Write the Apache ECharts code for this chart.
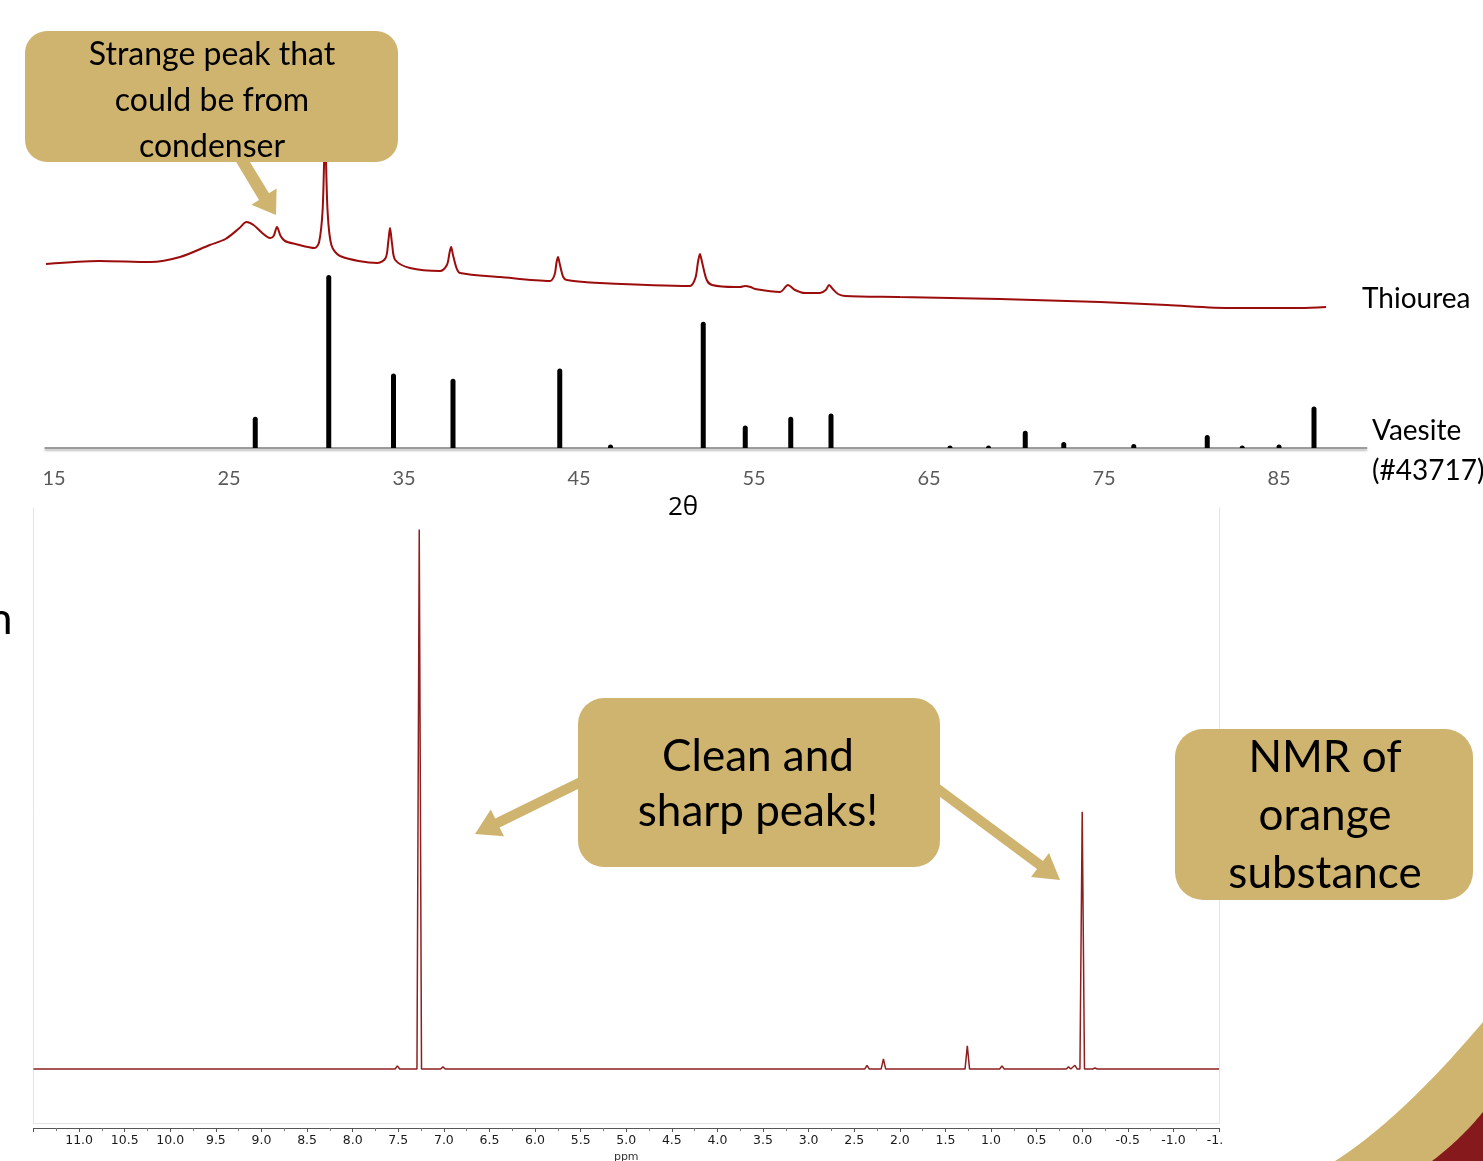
<!DOCTYPE html>
<html>
<head>
<meta charset="utf-8">
<script src="https://cdn.jsdelivr.net/npm/echarts@6/dist/echarts.min.js"></script>
<style>
html,body{margin:0;padding:0;background:#fff;}
#chart{width:1483px;height:1161px;}
</style>
</head>
<body>
<div id="chart"></div>
<script>
// ---------- XRD data ----------
const xrdTicks = [15, 25, 35, 45, 55, 65, 75, 85];

// Thiourea measured pattern (2θ, arbitrary intensity)
const thioX = [14.54, 17.6, 20.5, 22.2, 23.9, 24.8, 25.6, 26.0, 26.4, 26.9, 27.35, 27.55, 27.74, 27.95, 28.2, 28.8, 29.9,
  30.15, 30.35, 30.49, 30.63, 30.85, 31.34, 33.5, 33.95, 34.1, 34.2, 34.32, 34.5, 35.34, 37.06, 37.45, 37.6, 37.69, 37.8, 38.0, 38.2,
  40.49, 43.34, 43.6, 43.72, 43.8, 43.9, 44.1, 44.3, 46.2, 51.34, 51.65, 51.8, 51.91, 52.03, 52.3, 52.6, 53.91, 54.2, 54.49, 54.8,
  55.06, 56.49, 56.94, 57.34, 57.91, 58.77, 59.1, 59.29, 59.5, 59.8, 60.2, 63.34, 69.06, 74.77, 78.6, 82.37, 86.2, 87.69];
const thioY = [66, 69, 68, 73, 85, 91, 102, 108, 105, 97, 92, 94, 103, 94, 89, 86, 82,
  88, 120, 195, 120, 85, 74, 67, 72, 88, 102, 86, 70, 62, 59, 65, 77, 83, 75, 62, 57,
  53, 49, 55, 68, 73, 66, 53, 50, 47, 44, 52, 68, 76, 68, 50, 45, 43, 43, 44, 43,
  41, 38, 45, 40, 37, 37, 40, 45, 41, 36, 34, 33, 31, 28, 25, 22, 22, 23];

// Vaesite reference pattern (#43717): 2θ positions and relative intensities
const vaesitePos = [26.5, 30.7, 34.4, 37.8, 43.9, 46.8, 52.1, 54.5, 57.1, 59.4, 66.2, 68.4, 70.5, 72.7, 76.7, 80.9, 82.9, 85.0, 87.0];
const vaesiteInt = [18, 100, 43, 40, 46, 2, 73, 13, 18, 20, 1.5, 1.5, 10, 3.5, 2.3, 7.5, 1.5, 2, 24];

// ---------- NMR data ----------
const nmrTicksMin = -1.5, nmrTicksMax = 11.5;
const nmrPeakPpm = [7.51, 7.27, 7.01, 2.36, 2.18, 1.26, 0.88, 0.15, 0.08, 0.0, -0.14];
const nmrPeakInt = [0.6, 100, 0.4, 0.7, 1.9, 4.3, 0.6, 0.4, 0.7, 47.7, 0.2];

// build NMR stick spectrum on a flat baseline
const halfW = 0.025;
const nmrLine = [[nmrTicksMax, 0]];
nmrPeakPpm.forEach((p, i) => {
  nmrLine.push([p + halfW, 0], [p, nmrPeakInt[i]], [p - halfW, 0]);
});
nmrLine.push([nmrTicksMin, 0]);

const thioData = thioX.map((x, i) => [x, thioY[i]]);
const vaesiteData = vaesitePos.map((x, i) => [x, vaesiteInt[i]]);

const TAN = '#CFB470';
const FONT = 'Lato, "Open Sans", sans-serif';

// decorative corner shapes (quadratic curve sampled to polygon)
function quadPoly(p0, c, p1, extra) {
  const pts = [];
  for (let i = 0; i <= 30; i++) {
    const t = i / 30, u = 1 - t;
    pts.push([u * u * p0[0] + 2 * u * t * c[0] + t * t * p1[0], u * u * p0[1] + 2 * u * t * c[1] + t * t * p1[1]]);
  }
  return pts.concat(extra);
}
const cornerTan = quadPoly([1335, 1161], [1400, 1120], [1483, 1022], [[1483, 1161]]);
const cornerRed = quadPoly([1432, 1161], [1460, 1140], [1483, 1112], [[1483, 1161]]);

const frameLine = { show: true, onZero: false, lineStyle: { color: '#e4e4e4', width: 1 } };

const chart = echarts.init(document.getElementById('chart'));
chart.setOption({
  animation: false,
  backgroundColor: '#fff',
  grid: [
    { left: 45.25, right: 116.5, top: 130, bottom: 831, show: false, outerBoundsMode: 'none', containLabel: false },
    { left: 45.25, right: 116.5, top: 275, bottom: 713, show: false, outerBoundsMode: 'none', containLabel: false },
    { left: 33.5, right: 264, top: 508, bottom: 38, show: false, outerBoundsMode: 'none', containLabel: false }
  ],
  xAxis: [
    { gridIndex: 0, type: 'value', min: 14.5, max: 90, show: false },
    { gridIndex: 1, type: 'value', min: 14.5, max: 90, position: 'bottom',
      axisLine: { show: true, onZero: false, lineStyle: { color: '#9c9c9c', width: 2, shadowColor: 'rgba(0,0,0,0.25)', shadowOffsetY: 2, shadowBlur: 2 } },
      axisTick: { show: false },
      splitLine: { show: false },
      axisLabel: { customValues: xrdTicks, color: '#595959', fontSize: 20, fontFamily: FONT, margin: 21 }
    },
    { gridIndex: 2, type: 'value', min: nmrTicksMin, max: nmrTicksMax, inverse: true, position: 'bottom',
      axisLine: frameLine,
      axisTick: { show: false }, axisLabel: { show: false }, splitLine: { show: false }
    },
    { gridIndex: 2, type: 'value', min: nmrTicksMin, max: nmrTicksMax, interval: 0.5, inverse: true, position: 'bottom', offset: 5,
      name: 'ppm', nameLocation: 'middle', nameGap: 22,
      nameTextStyle: { fontFamily: 'DejaVu Sans', fontSize: 11, color: '#333' },
      axisLine: { show: true, onZero: false, lineStyle: { color: '#555', width: 1 } },
      axisTick: { show: true, length: 4, lineStyle: { color: '#555' } },
      minorTick: { show: true, splitNumber: 2, length: 3, lineStyle: { color: '#777' } },
      splitLine: { show: false },
      axisLabel: { color: '#1a1a1a', fontSize: 12.5, fontFamily: 'DejaVu Sans', margin: 6, showMaxLabel: false,
        formatter: v => v.toFixed(1) }
    }
  ],
  yAxis: [
    { gridIndex: 0, type: 'value', min: 0, max: 200, show: false },
    { gridIndex: 1, type: 'value', min: 0, max: 100, show: false },
    { gridIndex: 2, type: 'value', min: -10, max: 104, position: 'left',
      axisLine: frameLine,
      axisTick: { show: false }, axisLabel: { show: false }, splitLine: { show: false } },
    { gridIndex: 2, type: 'value', min: -10, max: 104, position: 'right',
      axisLine: frameLine,
      axisTick: { show: false }, axisLabel: { show: false }, splitLine: { show: false } }
  ],
  series: [
    { name: 'Thiourea', type: 'line', xAxisIndex: 0, yAxisIndex: 0, data: thioData,
      showSymbol: false, smooth: 0.3,
      lineStyle: { color: '#9B0D0D', width: 2 }, z: 2 },
    { name: 'Vaesite', type: 'bar', xAxisIndex: 1, yAxisIndex: 1, data: vaesiteData,
      barWidth: 5, itemStyle: { color: '#000', borderRadius: [3, 3, 0, 0] }, z: 3 },
    { name: 'NMR', type: 'line', xAxisIndex: 3, yAxisIndex: 2, data: nmrLine,
      showSymbol: false, lineStyle: { color: '#8E1F1F', width: 1.5 }, z: 2 }
  ],
  graphic: { elements: [
    // series labels
    { type: 'text', z: 50, style: { text: 'Thiourea', x: 1362, y: 299, textVerticalAlign: 'middle', font: '28px ' + FONT, fill: '#000' } },
    { type: 'text', z: 50, style: { text: 'Vaesite', x: 1372, y: 431, textVerticalAlign: 'middle', font: '28px ' + FONT, fill: '#000' } },
    { type: 'text', z: 50, style: { text: '(#43717)', x: 1372, y: 471, textVerticalAlign: 'middle', font: '28px ' + FONT, fill: '#000' } },
    { type: 'text', z: 50, style: { text: '2θ', x: 683, y: 508, textAlign: 'center', textVerticalAlign: 'middle', font: '26px "Open Sans", sans-serif', fill: '#000' } },
    { type: 'text', z: 50, style: { text: 'n', x: -12, y: 620, textVerticalAlign: 'middle', font: '44px ' + FONT, fill: '#000' } },
    // hide the clipped end of the NMR axis label
    { type: 'rect', z: 60, shape: { x: 1222, y: 1131, width: 60, height: 30 }, style: { fill: '#fff' } },
    // callout 1
    { type: 'rect', z: 100, shape: { x: 25, y: 31, width: 373, height: 131, r: 22 }, style: { fill: TAN } },
    { type: 'polygon', z: 100, shape: { points: [[235, 160], [245, 154], [269, 193.3], [276.6, 188.4], [276, 215], [251.4, 204.8], [259, 199.9]] }, style: { fill: TAN } },
    { type: 'text', z: 101, style: { text: 'Strange peak that\ncould be from\ncondenser', x: 212, y: 101, textAlign: 'center', textVerticalAlign: 'middle', lineHeight: 46, font: '32px ' + FONT, fill: '#000' } },
    // callout 2
    { type: 'polygon', z: 100, shape: { points: [[582.8, 775.5], [587.2, 784.5], [499.6, 827.4], [504, 836.3], [475, 834], [490.8, 809.5], [495.2, 818.4]] }, style: { fill: TAN } },
    { type: 'polygon', z: 100, shape: { points: [[938, 783], [932, 791], [1037, 869.1], [1031, 877.1], [1060, 880], [1049, 853.1], [1043, 861.1]] }, style: { fill: TAN } },
    { type: 'rect', z: 100, shape: { x: 578, y: 698, width: 362, height: 169, r: 26 }, style: { fill: TAN } },
    { type: 'text', z: 101, style: { text: 'Clean and\nsharp peaks!', x: 758, y: 784, textAlign: 'center', textVerticalAlign: 'middle', lineHeight: 55, font: '44px ' + FONT, fill: '#000' } },
    // callout 3
    { type: 'rect', z: 100, shape: { x: 1175, y: 729, width: 298, height: 171, r: 28 }, style: { fill: TAN } },
    { type: 'text', z: 101, style: { text: 'NMR of\norange\nsubstance', x: 1325, y: 816, textAlign: 'center', textVerticalAlign: 'middle', lineHeight: 58, font: '44px ' + FONT, fill: '#000' } },
    // corner decoration
    { type: 'polygon', z: 90, shape: { points: cornerTan }, style: { fill: TAN } },
    { type: 'polygon', z: 91, shape: { points: cornerRed }, style: { fill: '#86191C' } }
  ] }
});
</script>
</body>
</html>
